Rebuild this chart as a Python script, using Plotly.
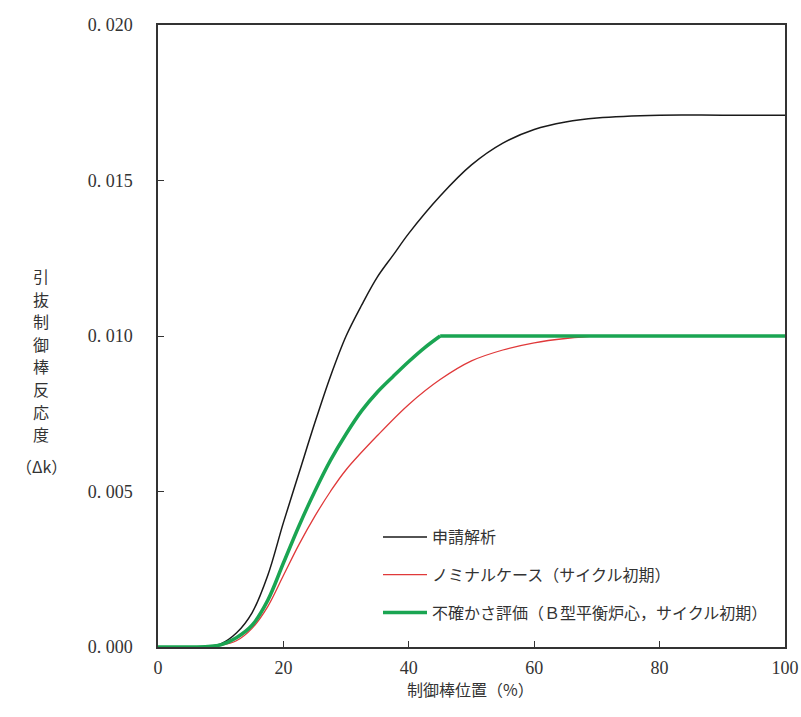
import plotly.graph_objects as go

pos = [0, 5, 8, 10, 12.5, 15, 17.5, 20, 22.5, 25, 27.5, 30, 32.5, 35, 37.5, 40, 45, 50, 55, 60, 65, 70, 80, 90, 100]
shinsei = [0, 0, 0.00002, 0.0001, 0.00045, 0.0011, 0.0023, 0.0040, 0.0056, 0.0072, 0.0087, 0.0100,
           0.0110, 0.0119, 0.0126, 0.0133, 0.0145, 0.0155, 0.0162, 0.01664, 0.01688, 0.01701, 0.0171, 0.0171, 0.0171]
pos_nom = [0, 5, 8, 10, 12.5, 15, 17.5, 20, 22.5, 25, 27.5, 30, 35, 40, 45, 50, 55, 60, 65, 70, 80, 90, 100]
nominal = [0, 0, 0.00001, 0.00005, 0.0002, 0.0006, 0.0013, 0.0023, 0.0033, 0.0042, 0.0050, 0.0057,
           0.0068, 0.0078, 0.0086, 0.0092, 0.00955, 0.00978, 0.00992, 0.0100, 0.0100, 0.0100, 0.0100]
# uncertainty case: rising part up to the 45 % kink, then flat part
pos_unc_rise = [0, 5, 8, 10, 12.5, 15, 17.5, 20, 22.5, 25, 27.5, 30, 32.5, 35, 37.5, 40, 42.5, 45]
uncert_rise = [0, 0, 0.00002, 0.00007, 0.0003, 0.0007, 0.0015, 0.0027, 0.0039, 0.0050, 0.0060, 0.00685,
               0.0076, 0.0082, 0.0087, 0.00918, 0.00962, 0.0100]
pos_unc_flat = [45, 60, 80, 100]
uncert_flat = [0.0100, 0.0100, 0.0100, 0.0100]

names = ["申請解析", "ノミナルケース（サイクル初期）", "不確かさ評価（Ｂ型平衡炉心，サイクル初期）"]
ytickvals = [0, 0.005, 0.010, 0.015, 0.020]
yticktext = ["0. 000", "0. 005", "0. 010", "0. 015", "0. 020"]
xtickvals = [0, 20, 40, 60, 80, 100]
ytitle_chars = ["引", "抜", "制", "御", "棒", "反", "応", "度"]
ytitle_unit = "（Δk）"
xtitle = "制御棒位置（%）"

serif = "'Liberation Serif', 'Times New Roman', serif"
jp = "'Noto Sans CJK JP', sans-serif"
txt = "#333333"
green = "#1aa552"

fig = go.Figure()
fig.add_trace(go.Scatter(x=pos, y=shinsei, mode="lines", name=names[0], legendgroup="a",
                         line=dict(color="#1a1a1a", width=1.5, shape="spline", smoothing=1.0)))
fig.add_trace(go.Scatter(x=pos_nom, y=nominal, mode="lines", name=names[1], legendgroup="b",
                         line=dict(color="#e0393a", width=1.3, shape="spline", smoothing=1.0)))
fig.add_trace(go.Scatter(x=pos_unc_rise, y=uncert_rise, mode="lines", name=names[2], legendgroup="c",
                         line=dict(color=green, width=3.5, shape="spline", smoothing=1.0)))
fig.add_trace(go.Scatter(x=pos_unc_flat, y=uncert_flat, mode="lines", name=names[2], legendgroup="c",
                         showlegend=False, line=dict(color=green, width=3.5)))

L, R, T, B = 158, 16, 25, 70
W, H = 801, 717
pw, ph = W - L - R, H - T - B

fig.update_layout(
    width=W, height=H,
    margin=dict(l=L, r=R, t=T, b=B, autoexpand=False),
    paper_bgcolor="white", plot_bgcolor="white",
    font=dict(family=serif, size=18, color=txt),
    showlegend=True,
    legend=dict(x=(378 - L) / pw, y=(H - B - 520) / ph, xanchor="left", yanchor="top",
                bgcolor="rgba(0,0,0,0)", tracegroupgap=14, itemwidth=44,
                font=dict(family=jp, size=16, color=txt)),
    xaxis=dict(range=[0, 100], tickvals=xtickvals, ticks="inside", ticklen=6, tickcolor="#333",
               showline=True, linecolor="#333", linewidth=1.5, mirror=True, automargin=False,
               showgrid=False, zeroline=False, ticklabelstandoff=4,
               tickfont=dict(family=serif, size=18, color=txt)),
    yaxis=dict(range=[0, 0.020], tickvals=ytickvals, ticktext=yticktext, ticks="inside", ticklen=6,
               tickcolor="#333", showline=True, linecolor="#333", linewidth=1.5, mirror=True,
               automargin=False, showgrid=False, zeroline=False, ticklabelstandoff=20,
               tickfont=dict(family=serif, size=18, color=txt)),
)

def px_to_paper(xp, yp):
    return (xp - L) / pw, (H - B - yp) / ph

for i, ch in enumerate(ytitle_chars):
    ax, ay = px_to_paper(41, 276 + 22.6 * i)
    fig.add_annotation(text=ch, x=ax, y=ay, xref="paper", yref="paper", showarrow=False,
                       xanchor="center", yanchor="middle", font=dict(family=jp, size=16, color=txt))
ax, ay = px_to_paper(41, 466)
fig.add_annotation(text=ytitle_unit, x=ax, y=ay, xref="paper", yref="paper", showarrow=False,
                   xanchor="center", yanchor="middle", font=dict(family=jp, size=16, color=txt))
ax, ay = px_to_paper(470, 689)
fig.add_annotation(text=xtitle, x=ax, y=ay, xref="paper", yref="paper", showarrow=False,
                   xanchor="center", yanchor="middle", font=dict(family=jp, size=16, color=txt))

fig.write_html("out.html", config={"displayModeBar": False},
               post_script="document.body.style.margin='0';")
